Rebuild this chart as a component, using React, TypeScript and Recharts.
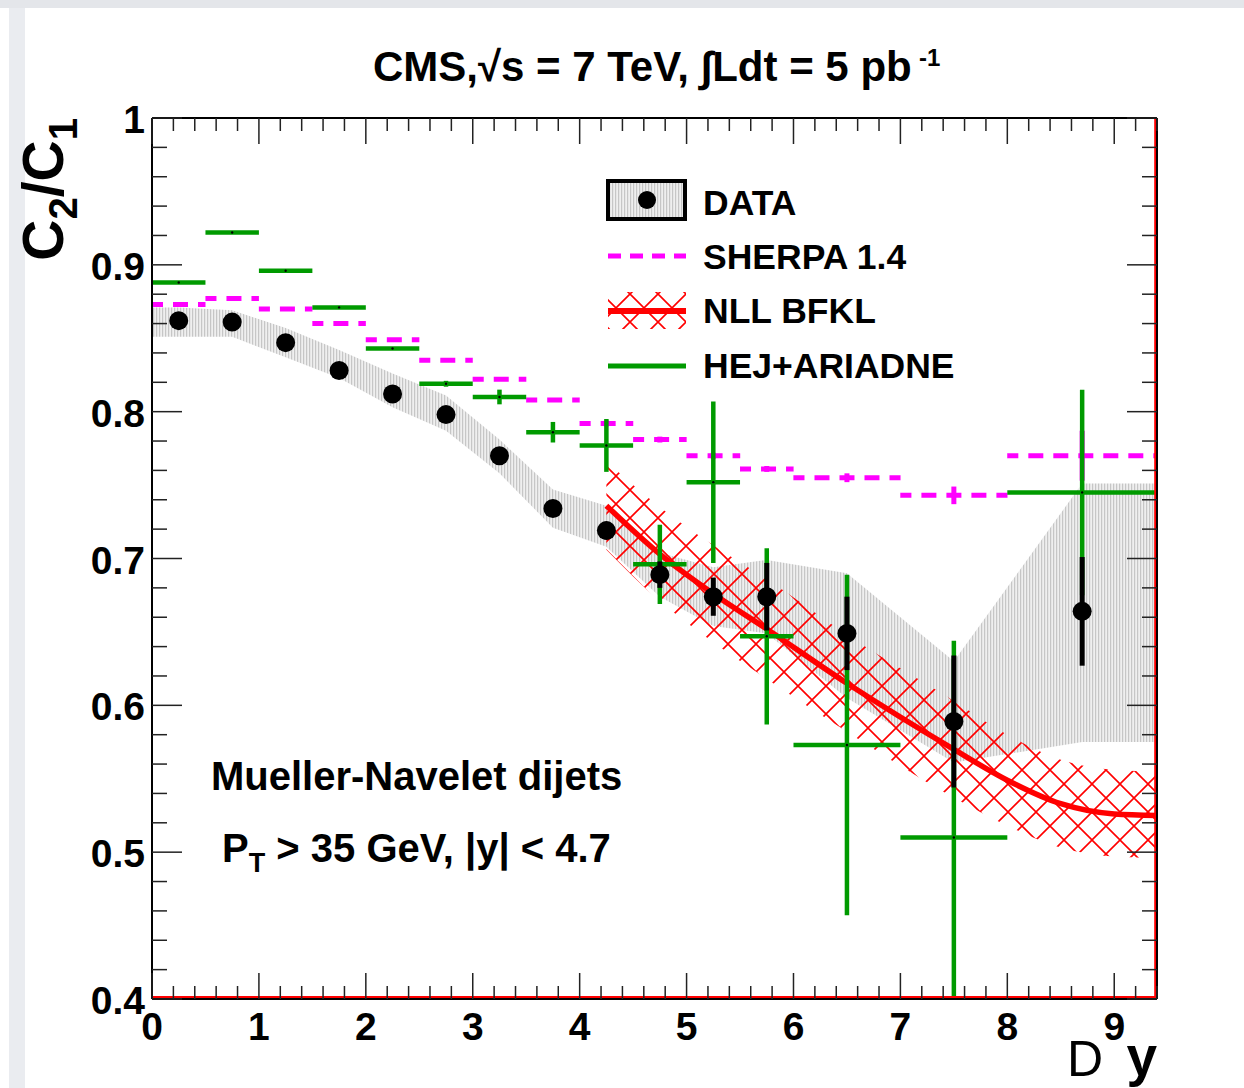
import React from "react";
import {
  ComposedChart,
  Area,
  Line,
  Scatter,
  ErrorBar,
  XAxis,
  YAxis,
  ReferenceLine,
} from "recharts";

// bins in Delta y
const binCenter = [0.25, 0.75, 1.25, 1.75, 2.25, 2.75, 3.25, 3.75, 4.25, 4.75, 5.25, 5.75, 6.5, 7.5, 8.7];
const binHalf = [0.25, 0.25, 0.25, 0.25, 0.25, 0.25, 0.25, 0.25, 0.25, 0.25, 0.25, 0.25, 0.5, 0.5, 0.7];

// measured C2/C1
const dataY = [0.862, 0.861, 0.847, 0.828, 0.812, 0.798, 0.77, 0.734, 0.719, 0.689, 0.674, 0.674, 0.649, 0.589, 0.664];
const dataErr = [0.003, 0.003, 0.003, 0.003, 0.003, 0.003, 0.004, 0.005, 0.006, 0.009, 0.013, 0.023, 0.025, 0.045, 0.037];

// systematic band (gray)
const sysX = [0, 0.25, 0.75, 1.25, 1.75, 2.25, 2.75, 3.25, 3.75, 4.25, 4.75, 5.25, 5.75, 6.5, 7.5, 8.7, 9.4];
const sysHi = [0.871, 0.871, 0.869, 0.857, 0.842, 0.826, 0.811, 0.781, 0.747, 0.736, 0.704, 0.694, 0.699, 0.69, 0.63, 0.751, 0.751];
const sysLo = [0.851, 0.851, 0.851, 0.837, 0.823, 0.803, 0.787, 0.758, 0.721, 0.708, 0.674, 0.654, 0.649, 0.605, 0.561, 0.575, 0.575];

// SHERPA 1.4
const sherpaY = [0.873, 0.877, 0.87, 0.86, 0.849, 0.835, 0.822, 0.808, 0.792, 0.781, 0.77, 0.761, 0.755, 0.743, 0.77];
const sherpaErr = [0.001, 0.001, 0.001, 0.001, 0.001, 0.001, 0.001, 0.001, 0.002, 0.002, 0.002, 0.002, 0.003, 0.006, 0.017];

// HEJ+ARIADNE (lower error of the 7-8 bin stops at the frame)
const hejY = [0.888, 0.922, 0.896, 0.871, 0.843, 0.819, 0.81, 0.786, 0.777, 0.696, 0.752, 0.647, 0.573, 0.51, 0.745];
const hejErrUp = [0.001, 0.001, 0.001, 0.001, 0.001, 0.002, 0.005, 0.007, 0.018, 0.027, 0.055, 0.06, 0.116, 0.134, 0.07];
const hejErrDown = [0.001, 0.001, 0.001, 0.001, 0.001, 0.002, 0.005, 0.007, 0.018, 0.027, 0.055, 0.06, 0.116, 0.11, 0.07];

// NLL BFKL
const bfklX = [4.25, 4.75, 5.25, 5.75, 6.5, 7.5, 8, 8.5, 9, 9.4];
const bfklC = [0.736, 0.703, 0.676, 0.652, 0.615, 0.57, 0.549, 0.533, 0.526, 0.525];
const bfklHi = [0.766, 0.735, 0.709, 0.686, 0.648, 0.603, 0.58, 0.563, 0.556, 0.555];
const bfklLo = [0.706, 0.671, 0.643, 0.618, 0.582, 0.537, 0.518, 0.503, 0.497, 0.496];

const xMajor = [0, 1, 2, 3, 4, 5, 6, 7, 8, 9];
const yMajor = [0.4, 0.5, 0.6, 0.7, 0.8, 0.9, 1];

const xTicks: number[] = [];
for (let i = 0; i <= 47; i++) xTicks.push(Math.round(i * 2) / 10);
const yTicks: number[] = [];
for (let i = 0; i <= 30; i++) yTicks.push(Math.round(400 + i * 20) / 1000);

const isMajorX = (v: number) => xMajor.some((m) => Math.abs(m - v) < 1e-6);
const isMajorY = (v: number) => yMajor.some((m) => Math.abs(m - v) < 1e-6);

const FONT = "'Liberation Sans', Arial, Helvetica, sans-serif";
const MAGENTA = "#ff00ff";
const GREEN = "#009a00";
const RED = "#ff0000";

const sysRows = sysX.map((x, i) => ({ x, band: [sysLo[i], sysHi[i]] }));
const bfklRows = bfklX.map((x, i) => ({ x, c: bfklC[i], band: [bfklLo[i], bfklHi[i]] }));
const dataRows = binCenter.map((x, i) => ({ x, y: dataY[i], ey: dataErr[i] }));
const sherpaRows = binCenter.map((x, i) => ({ x, y: sherpaY[i], ex: binHalf[i], ey: sherpaErr[i] }));
const hejRows = binCenter.map((x, i) => ({ x, y: hejY[i], ex: binHalf[i], ey: [hejErrDown[i], hejErrUp[i]] }));

const BottomTick = (p: any) => {
  const v = p.payload.value;
  const major = isMajorX(v);
  return (
    <g>
      <line x1={p.x} x2={p.x} y1={p.y} y2={p.y - (major ? 26 : 13)} stroke="#222" strokeWidth={1.5} />
      {major && (
        <text x={p.x} y={p.y + 41} textAnchor="middle" fontFamily={FONT} fontWeight="bold" fontSize={39} fill="#000">
          {v}
        </text>
      )}
    </g>
  );
};

const TopTick = (p: any) => {
  const major = isMajorX(p.payload.value);
  return <line x1={p.x} x2={p.x} y1={p.y} y2={p.y + (major ? 26 : 13)} stroke="#222" strokeWidth={1.5} />;
};

const LeftTick = (p: any) => {
  const v = p.payload.value;
  const major = isMajorY(v);
  return (
    <g>
      <line x1={p.x} x2={p.x + (major ? 30 : 15)} y1={p.y} y2={p.y} stroke="#222" strokeWidth={1.5} />
      {major && (
        <text x={p.x - 7} y={p.y + 15} textAnchor="end" fontFamily={FONT} fontWeight="bold" fontSize={39} fill="#000">
          {v === 1 ? "1" : v.toFixed(1)}
        </text>
      )}
    </g>
  );
};

const RightTick = (p: any) => {
  const major = isMajorY(p.payload.value);
  return <line x1={p.x} x2={p.x - (major ? 30 : 15)} y1={p.y} y2={p.y} stroke="#222" strokeWidth={1.5} />;
};

const Dot = (p: any) => <circle cx={p.cx} cy={p.cy} r={9.5} fill="#000" />;
const Tiny = (p: any) => <circle cx={p.cx} cy={p.cy} r={1.2} fill="#000" />;
const Nothing = () => <g />;

const txt = { fontFamily: FONT, fontWeight: "bold" as const, fill: "#000" };

export default function App() {
  return (
    <div style={{ position: "absolute", left: 0, top: 0, width: 1244, height: 1088, background: "#fff" }}>
      <div style={{ position: "absolute", left: 0, top: 0, width: 1244, height: 8, background: "#e4e6ea" }} />
      <div style={{ position: "absolute", left: 9, top: 8, width: 16, height: 1080, background: "#eaecf0" }} />
      <div style={{ position: "absolute", left: 0, top: 0 }}>
        <ComposedChart width={1244} height={1088} margin={{ top: 117, right: 86, bottom: 0, left: 0 }}>
          <defs>
            <pattern id="sysHatch" patternUnits="userSpaceOnUse" width={3} height={10}>
              <rect width={3} height={10} fill="#efefef" />
              <rect width={1.2} height={10} fill="#c6c6c6" />
            </pattern>
            <pattern id="bfklHatch" patternUnits="userSpaceOnUse" width={28} height={28}>
              <path d="M0,0 L28,28 M28,0 L0,28" stroke={RED} strokeWidth={1.6} fill="none" />
            </pattern>
          </defs>

          <XAxis
            xAxisId="b"
            type="number"
            dataKey="x"
            domain={[0, 9.4]}
            allowDataOverflow
            ticks={xTicks}
            interval={0}
            tick={<BottomTick />}
            tickLine={false}
            tickSize={0}
            tickMargin={0}
            height={89}
            axisLine={{ stroke: "#000", strokeWidth: 2 }}
          />
          <XAxis
            xAxisId="t"
            orientation="top"
            type="number"
            dataKey="x"
            domain={[0, 9.4]}
            allowDataOverflow
            ticks={xTicks}
            interval={0}
            tick={<TopTick />}
            tickLine={false}
            tickSize={0}
            tickMargin={0}
            height={1}
            axisLine={{ stroke: "#000", strokeWidth: 2 }}
          />
          <YAxis
            yAxisId="l"
            type="number"
            dataKey="y"
            domain={[0.4, 1]}
            allowDataOverflow
            ticks={yTicks}
            interval={0}
            tick={<LeftTick />}
            tickLine={false}
            tickSize={0}
            tickMargin={0}
            width={152}
            axisLine={{ stroke: "#000", strokeWidth: 2 }}
          />
          <YAxis
            yAxisId="r"
            orientation="right"
            type="number"
            dataKey="y"
            domain={[0.4, 1]}
            allowDataOverflow
            ticks={yTicks}
            interval={0}
            tick={<RightTick />}
            tickLine={false}
            tickSize={0}
            tickMargin={0}
            width={1}
            axisLine={{ stroke: "#000", strokeWidth: 2 }}
          />

          <Area
            xAxisId="b"
            yAxisId="l"
            data={sysRows}
            dataKey="band"
            type="linear"
            stroke="none"
            fill="url(#sysHatch)"
            fillOpacity={1}
            isAnimationActive={false}
            dot={false}
            activeDot={false}
          />
          <Area
            xAxisId="b"
            yAxisId="l"
            data={bfklRows}
            dataKey="band"
            type="monotone"
            stroke="none"
            fill="url(#bfklHatch)"
            fillOpacity={1}
            isAnimationActive={false}
            dot={false}
            activeDot={false}
          />
          <Line
            xAxisId="b"
            yAxisId="l"
            data={bfklRows}
            dataKey="c"
            type="monotone"
            stroke={RED}
            strokeWidth={5.5}
            dot={false}
            activeDot={false}
            isAnimationActive={false}
          />

          <Scatter xAxisId="b" yAxisId="l" data={sherpaRows} shape={<Nothing />} isAnimationActive={false}>
            <ErrorBar dataKey="ex" direction="x" width={0} stroke={MAGENTA} strokeWidth={5} strokeDasharray="15 10" strokeDashoffset={4} />
            <ErrorBar dataKey="ey" direction="y" width={0} stroke={MAGENTA} strokeWidth={5} />
          </Scatter>
          <Scatter xAxisId="b" yAxisId="l" data={hejRows} shape={<Tiny />} isAnimationActive={false}>
            <ErrorBar dataKey="ex" direction="x" width={0} stroke={GREEN} strokeWidth={4.5} />
            <ErrorBar dataKey="ey" direction="y" width={0} stroke={GREEN} strokeWidth={4.5} />
          </Scatter>
          <Scatter xAxisId="b" yAxisId="l" data={dataRows} shape={<Dot />} isAnimationActive={false}>
            <ErrorBar dataKey="ey" direction="y" width={0} stroke="#000" strokeWidth={5} />
          </Scatter>
          {/* invisible series so that the top and right frame axes get drawn */}
          <Scatter xAxisId="t" yAxisId="r" data={dataRows} shape={<Nothing />} isAnimationActive={false} />

          <ReferenceLine xAxisId="b" yAxisId="l" y={0.4012} stroke={RED} strokeWidth={2.5} />
          <ReferenceLine xAxisId="b" yAxisId="l" x={9.3855} stroke={RED} strokeWidth={2.5} />

          {/* title */}
          <text x={373} y={81} fontSize={42} {...txt}>
            CMS,√s = 7 TeV, ∫Ldt = 5 pb
          </text>
          <text x={919} y={66} fontSize={24} {...txt}>
            -1
          </text>

          {/* axis titles */}
          <text transform="rotate(-90)" x={-118} y={63} textAnchor="end" fontSize={57} {...txt}>
            C
            <tspan fontSize={40} dy={14}>2</tspan>
            <tspan dy={-14}>/C</tspan>
            <tspan fontSize={40} dy={14}>1</tspan>
          </text>
          <text x={1103} y={1076} textAnchor="end" fontFamily={FONT} fontSize={50} fill="#000">
            D
          </text>
          <text x={1157} y={1075} textAnchor="end" fontSize={55} {...txt}>
            y
          </text>

          {/* annotations */}
          <text x={211} y={790} fontSize={40} {...txt}>
            Mueller-Navelet dijets
          </text>
          <text x={222} y={862} fontSize={40} {...txt}>
            P<tspan fontSize={27} dy={10}>T</tspan>
            <tspan dy={-10}> &gt; 35 GeV, |y| &lt; 4.7</tspan>
          </text>

          {/* legend */}
          <g>
            <rect x={608} y={181} width={77} height={38} fill="url(#sysHatch)" stroke="#000" strokeWidth={4} />
            <circle cx={647} cy={200} r={9} fill="#000" />
            <text x={703} y={215} fontSize={35.5} {...txt}>DATA</text>
            <line x1={608} x2={686} y1={256} y2={256} stroke={MAGENTA} strokeWidth={5} strokeDasharray="13 9" />
            <text x={703} y={269} fontSize={35.5} {...txt}>SHERPA 1.4</text>
            <rect x={608} y={292} width={78} height={37} fill="url(#bfklHatch)" />
            <line x1={608} x2={686} y1={311} y2={311} stroke={RED} strokeWidth={6} />
            <text x={703} y={323} fontSize={35.5} {...txt}>NLL BFKL</text>
            <line x1={608} x2={686} y1={366} y2={366} stroke={GREEN} strokeWidth={5} />
            <text x={703} y={378} fontSize={35.5} {...txt}>HEJ+ARIADNE</text>
          </g>
        </ComposedChart>
      </div>
    </div>
  );
}
